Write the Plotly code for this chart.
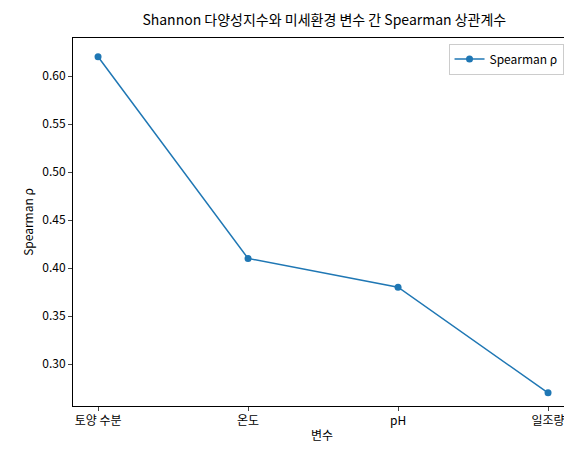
import plotly.graph_objects as go

variables = ["토양 수분", "온도", "pH", "일조량"]
rho = [0.62, 0.41, 0.38, 0.27]
y_ticks = [0.30, 0.35, 0.40, 0.45, 0.50, 0.55, 0.60]

FONT = "Noto Sans CJK KR"

fig = go.Figure()
fig.add_trace(go.Scatter(
    x=list(range(len(variables))), y=rho,
    mode="lines+markers", name="Spearman ρ",
    line=dict(color="#1f77b4", width=1.5),
    marker=dict(size=7, color="#1f77b4"),
))

fig.update_layout(
    width=572, height=455,
    margin=dict(l=65, r=9, t=30, b=57, autoexpand=False),
    paper_bgcolor="white", plot_bgcolor="white",
    font=dict(family=FONT, size=12, color="black"),
    title=dict(text="Shannon 다양성지수와 미세환경 변수 간 Spearman 상관계수",
               x=0.553, xanchor="center", yref="container", y=0.985, yanchor="top",
               font=dict(size=14), automargin=False),
    showlegend=True,
    legend=dict(x=0.985, y=0.985, xanchor="right", yanchor="top",
                bordercolor="#cccccc", borderwidth=1, bgcolor="white",
                font=dict(size=12), itemwidth=30),
    xaxis=dict(
        range=[-0.167, 3.153], tickvals=list(range(len(variables))),
        ticktext=variables, showgrid=False, zeroline=False,
        showline=True, mirror=True, linecolor="black", linewidth=1,
        ticks="outside", ticklen=4, automargin=False,
        title=dict(text="변수", standoff=4, font=dict(size=12)),
    ),
    yaxis=dict(
        range=[0.2563, 0.6396], tickvals=y_ticks,
        ticktext=[f"{v:.2f}" for v in y_ticks], showgrid=False, zeroline=False,
        showline=True, mirror=True, linecolor="black", linewidth=1,
        ticks="outside", ticklen=4, automargin=False,
        title=dict(text="Spearman ρ", standoff=6, font=dict(size=12)),
    ),
)

fig.write_html("out.html")
